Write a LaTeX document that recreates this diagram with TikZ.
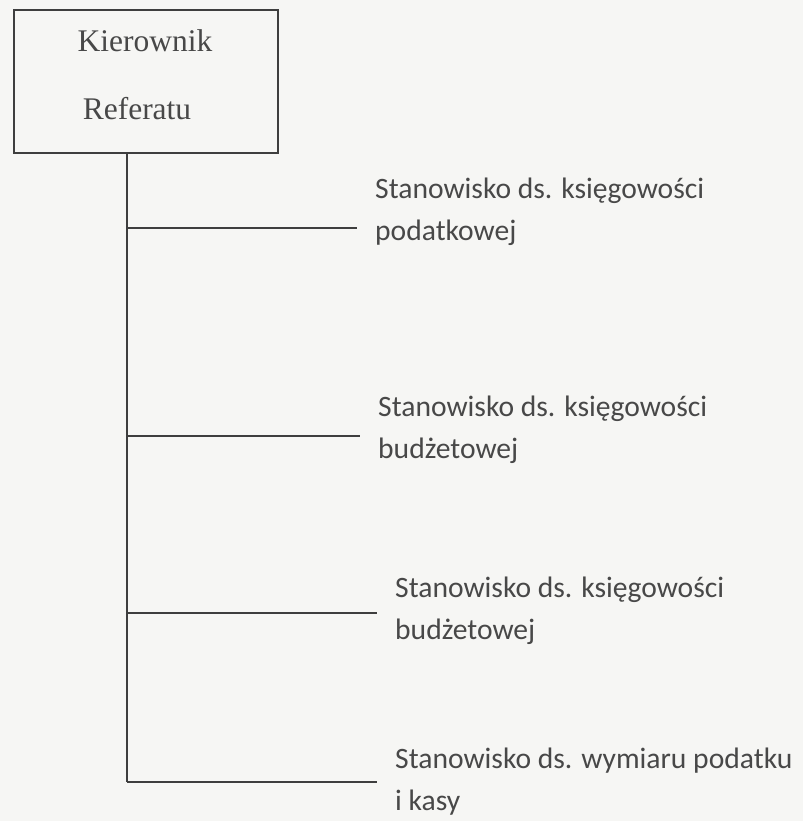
\documentclass[tikz,border=0pt]{standalone}
\usepackage{fontspec}
\setmainfont{Liberation Serif}
\newfontfamily\postfont{Carlito}
\usetikzlibrary{positioning,calc}
\definecolor{paper}{RGB}{246,246,244}
\definecolor{ink}{RGB}{62,62,62}
\definecolor{inktext}{RGB}{72,72,72}
\tikzset{
  wire/.style={draw=ink, line width=1.6pt},
  headbox/.style={wire, minimum width=264pt, minimum height=143pt, inner sep=0pt},
  head/.style={font=\fontsize{31.5}{40}\selectfont, text=inktext, anchor=base, inner sep=0pt},
  post/.style={font=\postfont\fontsize{29.6}{42}\selectfont, text=inktext, align=left, anchor=base west, inner sep=0pt},
}
\begin{document}
\begin{tikzpicture}[x=1pt, y=-1pt]
\fill[paper] (0,0) rectangle (803,821);
\useasboundingbox (0,0) rectangle (803,821);
% kierownik
\node[headbox] (kier) at (146,81.5) {};
\node[head] (kierA) at (145,52) {Kierownik};
\node[head] (kierB) at (137,120) {Referatu};
% stanowiska (base = druga linia)
\node[post] (post1) at (375,240) {Stanowisko ds. księgowości\\podatkowej};
\node[post] (post2) at (378,458) {Stanowisko ds. księgowości\\budżetowej};
\node[post] (post3) at (395,639) {Stanowisko ds. księgowości\\budżetowej};
\node[post] (post4) at (395,810) {Stanowisko ds. wymiaru podatku\\i kasy};
% linie
\coordinate (trunk) at (127,782);
\draw[wire] (kier.south -| trunk) -- (trunk);
\foreach \i/\y in {1/228,2/436,3/613,4/782} {
  \coordinate (b\i) at (127,\y);
  \draw[wire] (b\i) -- ($(b\i -| post\i.west)+(-18,0)$);
}
\end{tikzpicture}
\end{document}
